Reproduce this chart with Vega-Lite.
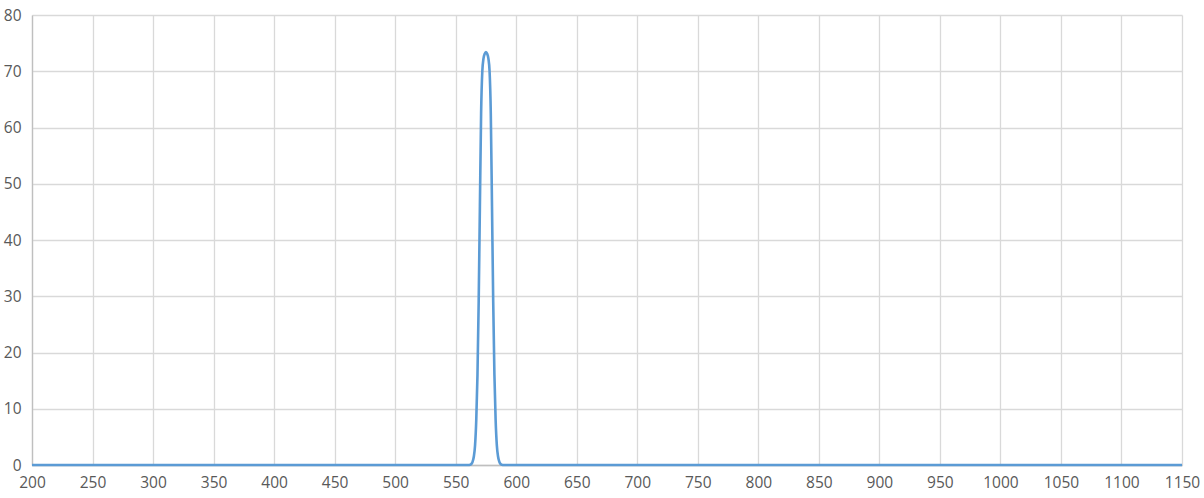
{
  "$schema": "https://vega.github.io/schema/vega-lite/v6.json",
  "description": "Narrow transmission peak near 575 nm on a flat baseline.",
  "width": 1150,
  "height": 450,
  "autosize": {"type": "none"},
  "padding": {"left": 32, "top": 15, "right": 22, "bottom": 33},
  "background": "white",
  "config": {
    "view": {"stroke": null},
    "axis": {
      "labelFont": "Open Sans",
      "labelFontSize": 15.5,
      "labelColor": "#595959",
      "gridColor": "#D9D9D9",
      "gridWidth": 1.3,
      "ticks": false,
      "title": null
    }
  },
  "data": {
    "values": [
      {"nm": 200, "value": 0},
      {"nm": 400, "value": 0},
      {"nm": 550, "value": 0},
      {"nm": 560, "value": 0},
      {"nm": 562, "value": 0.05},
      {"nm": 563, "value": 0.2},
      {"nm": 564, "value": 0.6},
      {"nm": 565, "value": 1.5},
      {"nm": 566, "value": 3.5},
      {"nm": 567, "value": 8},
      {"nm": 568, "value": 16},
      {"nm": 569, "value": 29},
      {"nm": 570, "value": 46},
      {"nm": 571, "value": 62.5},
      {"nm": 572, "value": 70},
      {"nm": 573, "value": 72.3},
      {"nm": 574, "value": 73.1},
      {"nm": 575, "value": 73.4},
      {"nm": 576, "value": 73.1},
      {"nm": 577, "value": 72.3},
      {"nm": 578, "value": 70},
      {"nm": 579, "value": 62.5},
      {"nm": 580, "value": 46},
      {"nm": 581, "value": 29},
      {"nm": 582, "value": 16},
      {"nm": 583, "value": 8},
      {"nm": 584, "value": 3.5},
      {"nm": 585, "value": 1.5},
      {"nm": 586, "value": 0.6},
      {"nm": 587, "value": 0.2},
      {"nm": 588, "value": 0.05},
      {"nm": 590, "value": 0},
      {"nm": 600, "value": 0},
      {"nm": 800, "value": 0},
      {"nm": 1150, "value": 0}
    ]
  },
  "mark": {"type": "line", "color": "#5B9BD5", "strokeWidth": 2.6, "interpolate": "monotone"},
  "encoding": {
    "x": {
      "field": "nm",
      "type": "quantitative",
      "scale": {"domain": [200, 1150], "nice": false, "zero": false},
      "axis": {
        "values": [200, 250, 300, 350, 400, 450, 500, 550, 600, 650, 700, 750, 800, 850, 900, 950, 1000, 1050, 1100, 1150],
        "format": "d",
        "domainColor": "#BFBFBF",
        "domainWidth": 1.3,
        "labelPadding": 10,
        "labelFlush": false,
        "labelOverlap": false
      }
    },
    "y": {
      "field": "value",
      "type": "quantitative",
      "scale": {"domain": [0, 80], "nice": false},
      "axis": {
        "values": [0, 10, 20, 30, 40, 50, 60, 70, 80],
        "format": "d",
        "domainColor": "#BFBFBF",
        "domainWidth": 1.3,
        "labelPadding": 11,
        "labelFlush": false
      }
    }
  }
}
